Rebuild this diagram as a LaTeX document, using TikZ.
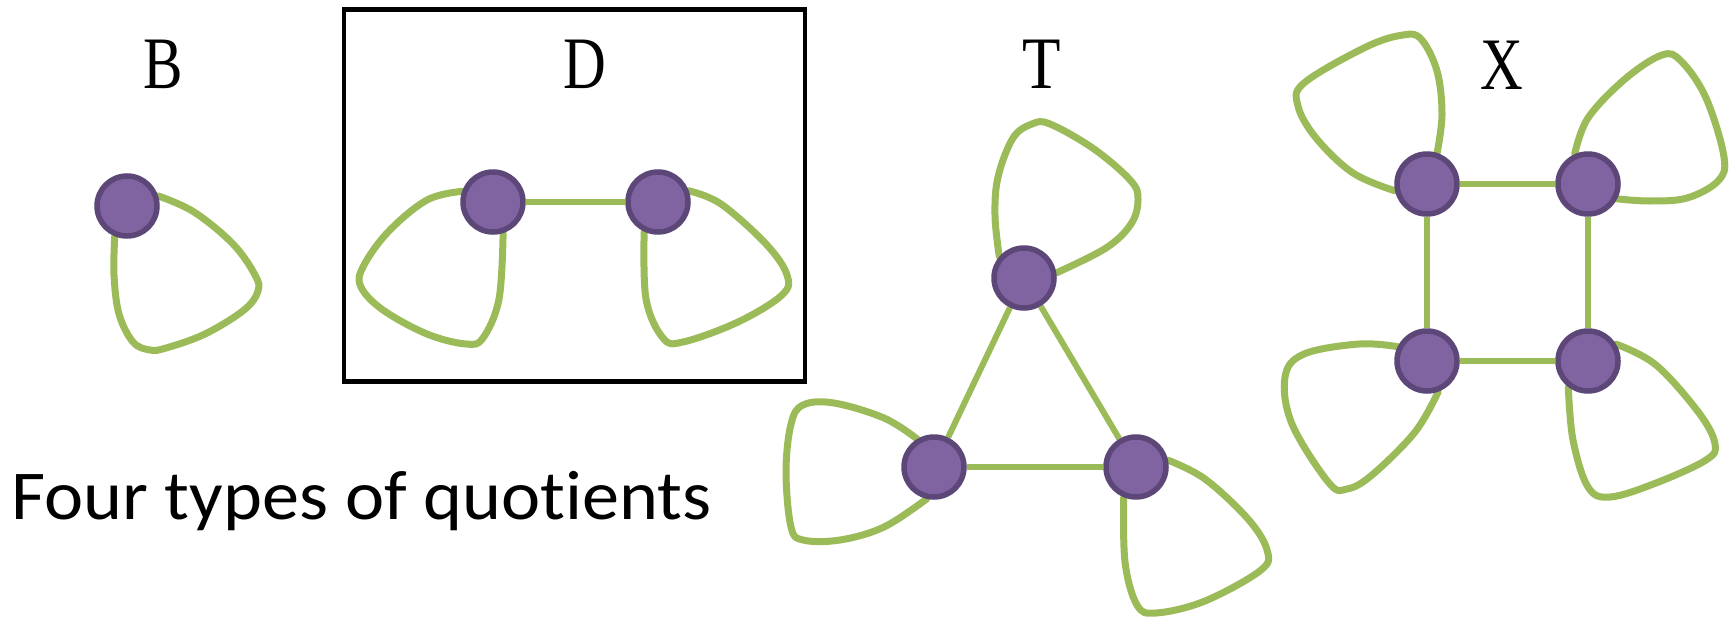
\documentclass[tikz,border=0pt]{standalone}
\usepackage{fontspec}
\setmainfont{Liberation Serif}
\newfontfamily\carlito[RawFeature={-liga;-dlig;-clig}]{Carlito}
\definecolor{lgreen}{RGB}{155,187,89}
\definecolor{vfill}{RGB}{128,100,162}
\definecolor{vborder}{RGB}{92,71,120}
\pgfdeclarelayer{bg}
\pgfsetlayers{bg,main}
\tikzset{
 vtx/.style={circle, minimum size=60pt, inner sep=0pt, fill=vfill, draw=vborder, line width=5.5pt},
 loopln/.style={draw=lgreen, line width=7pt, line cap=round, line join=round},
 hedge/.style={draw=lgreen, line width=6.5pt},
 sedge/.style={draw=lgreen, line width=6pt},
 lbl/.style={anchor=base, inner sep=0pt, font=\fontsize{74}{74}\selectfont},
 framebox/.style={draw=black, line width=4.5pt, inner sep=0pt, minimum width=461pt, minimum height=372pt},
}
\begin{document}
\begin{tikzpicture}[x=1pt,y=-1pt]
\useasboundingbox (0,0) rectangle (1729,616);
% labels
\node[lbl] (lB) at (163,88) {\scalebox{0.8}[1]{B}};
\node[lbl] (lD) at (585,88) {\scalebox{0.8}[1]{D}};
\node[lbl] (lT) at (1042,88) {\scalebox{0.85}[1]{T}};
\node[lbl] (lX) at (1502,89) {\scalebox{0.8}[1]{X}};
\node[anchor=base west, inner sep=0pt, font=\carlito\fontsize{70}{70}\selectfont] (cap) at (11,519) {\scalebox{1.06}[1]{Four types of quotients}};
% frame
\node[framebox] (box) at (574.5,195.5) {};
% vertices
\node[vtx] (b) at (127,206) {};
\node[vtx] (d1) at (493,202) {};
\node[vtx] (d2) at (658,202) {};
\node[vtx] (t1) at (1024,278) {};
\node[vtx] (t2) at (934,467) {};
\node[vtx] (t3) at (1136,467) {};
\node[vtx] (x1) at (1427,184) {};
\node[vtx] (x2) at (1588,184) {};
\node[vtx] (x3) at (1427,361) {};
\node[vtx] (x4) at (1588,361) {};
\begin{pgfonlayer}{bg}
% straight edges
\draw[hedge] (d1) -- (d2);
\draw[sedge] (t1) -- (t2);
\draw[sedge] (t1) -- (t3);
\draw[hedge] (t2) -- (t3);
\draw[hedge] (x1) -- (x2);
\draw[hedge] (x3) -- (x4);
\draw[sedge] (x1) -- (x3);
\draw[sedge] (x2) -- (x4);
% loops
\draw[loopln] plot[smooth, tension=0.6] coordinates {(b.18) (194,212) (233,244) (255,275) (258,291) (244,310) (205,334) (166,348) (150,350) (133,342) (119,314) (114,275) (b.-112)};
\draw[loopln] plot[smooth, tension=0.6] coordinates {(d1.161) (427,200) (388,232) (363,267) (361,287) (383,310) (427,334) (466,344) (483,338) (499,299) (d1.-72)};
\draw[loopln] plot[smooth, tension=0.6] coordinates {(d2.20) (721,204) (766,244) (787,275) (782,295) (738,322) (683,342) (663,338) (646,299) (d2.-115)};
\draw[loopln] plot[smooth, tension=0.6] coordinates {(t1.139) (995,216) (998,177) (1013,138) (1032,124) (1050,124) (1094,149) (1131,181) (1138,200) (1131,224) (1106,248) (t1.9)};
\draw[loopln] plot[smooth, tension=0.6] coordinates {(t2.121) (884,418) (834,403) (803,405) (791,424) (786,472) (791,527) (803,540) (840,540) (884,527) (t2.-103)};
\draw[loopln] plot[smooth, tension=0.6] coordinates {(t3.12) (1205,479) (1248,519) (1267,550) (1261,570) (1205,601) (1156,613) (1137,605) (1125,562) (t3.-112)};
\draw[loopln] plot[smooth, tension=0.6] coordinates {(x1.72) (1442,114) (1437,71) (1421,39) (1403,35) (1366,47) (1304,83) (1298,106) (1316,138) (1353,173) (x1.192)};
\draw[loopln] plot[smooth, tension=0.6] coordinates {(x2.114) (1588,118) (1625,79) (1662,55) (1681,61) (1706,98) (1724,157) (1718,181) (1687,198) (1650,201) (x2.-27)};
\draw[loopln] plot[smooth, tension=0.6] coordinates {(x3.154) (1359,344) (1304,354) (1285,377) (1292,424) (1329,483) (1347,489) (1372,475) (1415,432) (x3.-70)};
\draw[loopln] plot[smooth, tension=0.6] coordinates {(x4.31) (1656,365) (1699,413) (1715,444) (1706,460) (1656,483) (1610,497) (1588,487) (1573,440) (x4.-127)};
\end{pgfonlayer}
\end{tikzpicture}
\end{document}
